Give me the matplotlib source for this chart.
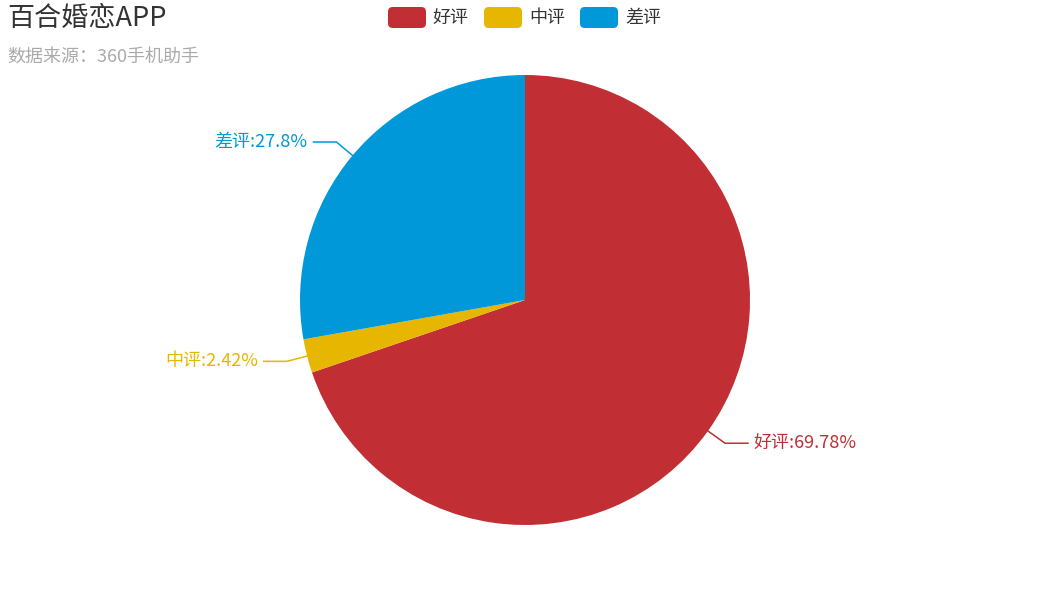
import numpy as np
import matplotlib
matplotlib.use('Agg')
from matplotlib import pyplot as plt
from matplotlib.patches import FancyBboxPatch

plt.rcParams['font.family'] = ['Noto Sans CJK SC', 'DejaVu Sans']

labels = ['好评', '中评', '差评']
values = [69.78, 2.42, 27.8]
colors = ['#c12e34', '#e6b600', '#0098d9']

W, H = 1050, 600
fig = plt.figure(figsize=(W / 100, H / 100), dpi=100)

# pie axes: centre (525, 300), radius 225 px
cx, cy, R = 525, 300, 225
ax = fig.add_axes([(cx - R) / W, (H - cy - R) / H, 2 * R / W, 2 * R / H])
ax.pie(values, colors=colors, startangle=90, counterclock=False, radius=1,
       wedgeprops=dict(linewidth=0))
ax.set_xlim(-1, 1)
ax.set_ylim(-1, 1)
ax.axis('off')

# label lines
total = sum(values)
cum = 0
for lab, v, c in zip(labels, values, colors):
    mid = cum + v / 2
    cum += v
    ang = np.deg2rad(90 - mid / total * 360)
    x0, y0 = np.cos(ang), np.sin(ang)
    x1, y1 = x0 * (1 + 21 / R), y0 * (1 + 21 / R)
    side = 1 if x0 >= 0 else -1
    x2 = x1 + side * 23 / R
    ax.plot([x0, x1, x2], [y0, y1, y1], color=c, lw=1.1, clip_on=False)
    ax.text(x2 + side * 6 / R, y1, f'{lab}:{v:g}%', color=c, fontsize=13,
            ha='left' if side > 0 else 'right', va='center')

# title
fig.text(7 / W, 1 - 18 / H, '百合婚恋APP', fontsize=19.5, color='#333333', va='center', ha='left')
fig.text(7 / W, 1 - 57 / H, '数据来源：360手机助手', fontsize=13, color='#aaaaaa', va='center', ha='left')

# legend
lx = 388
for lab, c in zip(labels, colors):
    box = FancyBboxPatch((lx / W, 1 - 28 / H), 38 / W, 21 / H,
                         boxstyle='round,pad=0,rounding_size=0.0045',
                         transform=fig.transFigure, facecolor=c, edgecolor='none',
                         mutation_aspect=W / H)
    fig.patches.append(box)
    fig.text((lx + 45) / W, 1 - 17.5 / H, lab, fontsize=13, color='#333333', va='center', ha='left')
    lx += 96

fig.savefig('out.png', dpi=100, facecolor='white')
